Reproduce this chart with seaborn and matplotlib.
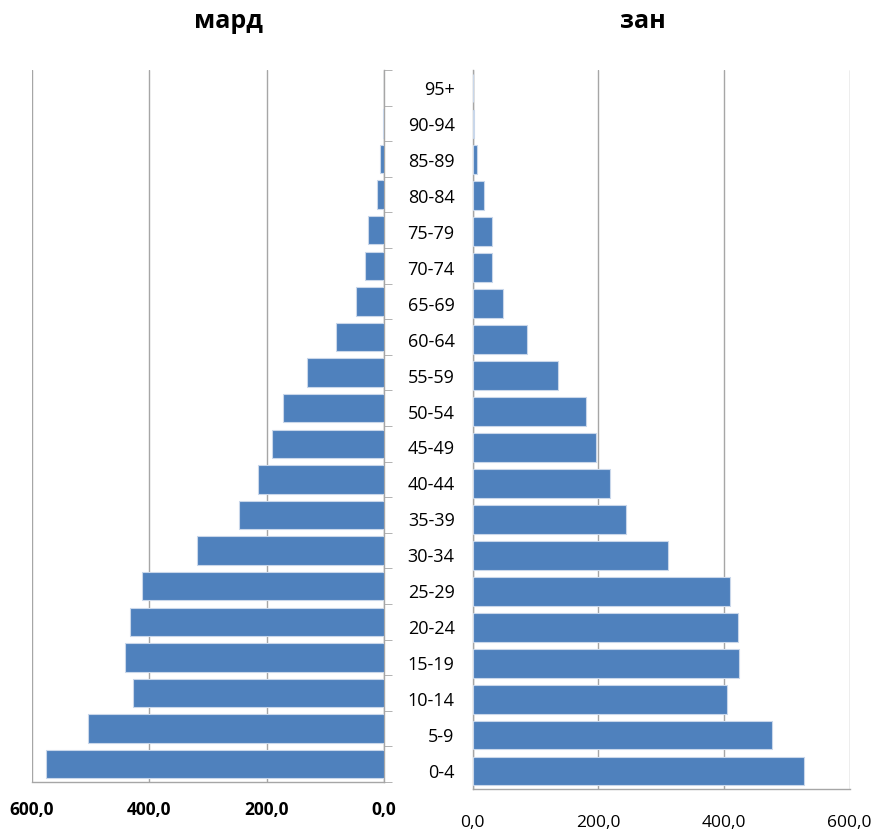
import pandas as pd
import seaborn as sns
import matplotlib.pyplot as plt
from matplotlib.ticker import FuncFormatter, FixedLocator

# Age groups (bottom to top)
ages = ['0-4', '5-9', '10-14', '15-19', '20-24', '25-29', '30-34', '35-39',
        '40-44', '45-49', '50-54', '55-59', '60-64', '65-69', '70-74',
        '75-79', '80-84', '85-89', '90-94', '95+']
men = [576, 504, 427, 441, 433, 412, 319, 248, 214, 191, 173, 131, 81,
       48, 32, 28, 12.5, 7, 1, 0]
women = [527, 477, 405, 424, 422, 409, 311, 244, 218, 196, 180, 135, 86,
         48, 30, 30, 17.5, 6.5, 2, 0]
ticks = [0, 200, 400, 600]

df = pd.DataFrame({'age': ages, 'men': men, 'women': women})
order = ages[::-1]

sns.set_style('white')
plt.rcParams['font.family'] = ['Open Sans', 'DejaVu Sans']
plt.rcParams['text.color'] = 'black'
plt.rcParams['xtick.labelcolor'] = 'black'
plt.rcParams['ytick.labelcolor'] = 'black'

W, H = 877, 833
fig = plt.figure(figsize=(W / 100, H / 100), dpi=100)
ax_l = fig.add_axes([32 / W, (H - 782) / H, (384 - 32) / W, 712 / H])
ax_r = fig.add_axes([472.7 / W, (H - 789) / H, (849.7 - 472.7) / W, 719 / H])

blue = '#4F81BD'
grid_c = '#a6a6a6'
fmt = FuncFormatter(lambda v, p: f"{v:.1f}".replace('.', ','))

for ax, col in [(ax_l, 'men'), (ax_r, 'women')]:
    sns.barplot(data=df, x=col, y='age', order=order, orient='h', ax=ax,
                color=blue, saturation=1, width=0.8,
                edgecolor='#c9d7ea', linewidth=0.8, zorder=3)
    ax.set_xlabel('')
    ax.set_ylabel('')
    ax.set_ylim(len(ages) - 0.5, -0.5)
    ax.xaxis.set_major_locator(FixedLocator(ticks))
    ax.xaxis.set_major_formatter(fmt)
    ax.grid(axis='x', color=grid_c, linewidth=1, zorder=0)
    ax.yaxis.set_minor_locator(FixedLocator([i - 0.5 for i in range(len(ages) + 1)]))
    ax.tick_params(axis='x', which='major', length=5, color=grid_c,
                   labelsize=12.5, pad=6, direction='out')
    ax.tick_params(axis='y', which='major', length=0)
    ax.tick_params(axis='y', which='minor', length=6, color=grid_c, direction='out')
    for s in ax.spines.values():
        s.set_color(grid_c)
        s.set_linewidth(1)
    ax.spines['top'].set_visible(False)

# left panel: reversed, axis on the right
ax_l.set_xlim(600, 0)
ax_l.yaxis.tick_right()
ax_l.set_yticklabels([])
ax_l.spines['left'].set_visible(False)
ax_l.tick_params(axis='y', which='minor', right=True, left=False)
ax_l.tick_params(axis='x', pad=9)
for t in ax_l.get_xticklabels():
    t.set_fontweight('bold')

# right panel
ax_r.set_xlim(0, 600)
ax_r.spines['right'].set_visible(False)
ax_r.tick_params(axis='y', which='major', labelsize=13, pad=13)
ax_r.tick_params(axis='x', pad=14)

fig.text(228 / W, 1 - 22 / H, 'мард', ha='center', va='center',
         fontsize=18, fontweight='bold')
fig.text(643 / W, 1 - 22 / H, 'зан', ha='center', va='center',
         fontsize=18, fontweight='bold')

fig.savefig('out.png', dpi=100)
